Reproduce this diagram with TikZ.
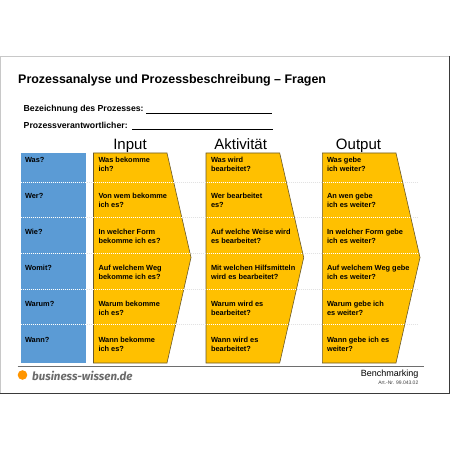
\documentclass[tikz,border=0pt]{standalone}
\usepackage{fontspec}
\setmainfont{Liberation Sans}
\newfontfamily\logofont{Fira Sans}
\definecolor{gold}{HTML}{FFC000}
\definecolor{edgegold}{HTML}{6B5A2A}
\definecolor{bluecol}{HTML}{5B9BD5}
\definecolor{framelight}{HTML}{C8C8C8}
\definecolor{framedark}{HTML}{3A3A3A}
\definecolor{rulegray}{HTML}{6E6E6E}
\definecolor{logogray}{HTML}{6A6A6A}
\definecolor{logoorange}{HTML}{FF9500}
\definecolor{dotgray}{HTML}{E2E2E2}
\tikzset{
  x=1bp,y=-1bp,
  txt/.style={anchor=west,inner sep=0pt,outer sep=0pt,font=\fontsize{7.4bp}{9bp}\selectfont\bfseries,align=left,text=black},
  head/.style={anchor=base,inner sep=0pt,font=\fontsize{15bp}{15bp}\selectfont},
  form/.style={anchor=west,inner sep=0pt,font=\fontsize{8.7bp}{9bp}\selectfont\bfseries},
  arrowbox/.style={fill=gold,draw=edgegold,line width=0.6bp,line join=miter},
  dotline/.style={line width=0.7bp,dash pattern=on 1bp off 1bp},
}
\begin{document}
\begin{tikzpicture}
\useasboundingbox (0,0) rectangle (450,450);
\fill[white] (0,0) rectangle (450,450);
% page frame
\draw[framelight,line width=1bp] (0.5,393) -- (0.5,56.5) -- (449,56.5);
\draw[framedark,line width=1bp] (449.5,56) -- (449.5,393) -- (0,393);
% title
\node[anchor=west,inner sep=0pt,font=\fontsize{12.45bp}{13bp}\selectfont\bfseries] (title) at (18,80.5) {Prozessanalyse und Prozessbeschreibung – Fragen};
\node[form] (bez) at (23.5,109) {Bezeichnung des Prozesses:};
\node[form] (ver) at (23.5,125) {Prozessverantwortlicher:};
\draw[black,line width=0.7bp] (146,113.5) -- (272,113.5);
\draw[black,line width=0.7bp] (132,129) -- (273,129);
% headers
\node[head] (hi) at (130,149.5) {Input};
\node[head] (ha) at (240.7,149.5) {Aktivität};
\node[head] (ho) at (358.5,149.5) {Output};
% columns
\fill[bluecol] (20.5,153) rectangle (86,363);
\draw[arrowbox] (93.5,153) -- (167,153) -- (191,257.5) -- (167,363) -- (93.5,363) -- cycle;
\draw[arrowbox] (206,153) -- (279.7,153) -- (303.7,257.5) -- (279.7,363) -- (206,363) -- cycle;
\draw[arrowbox] (322.3,153) -- (396,153) -- (420,257.5) -- (396,363) -- (322.3,363) -- cycle;
% row separators
\foreach \yy in {182.3,217.7,253.3,289,324.3}{
  \draw[dotgray,dotline] (20.5,\yy) -- (418,\yy);
}
\begin{scope}
\clip (20.5,153) rectangle (86,363)
      (93.5,153) -- (167,153) -- (191,257.5) -- (167,363) -- (93.5,363) -- cycle
      (206,153) -- (279.7,153) -- (303.7,257.5) -- (279.7,363) -- (206,363) -- cycle
      (322.3,153) -- (396,153) -- (420,257.5) -- (396,363) -- (322.3,363) -- cycle;
\foreach \yy in {182.3,217.7,253.3,289,324.3}{
  \draw[white,dotline] (20.5,\yy) -- (418,\yy);
}
\end{scope}
% blue labels
\node[txt] (q1) at (25,160) {Was?};
\node[txt] (q2) at (25,196) {Wer?};
\node[txt] (q3) at (25,232) {Wie?};
\node[txt] (q4) at (25,268) {Womit?};
\node[txt] (q5) at (25,304) {Warum?};
\node[txt] (q6) at (25,340) {Wann?};
% input
\node[txt] (i1) at (98.5,164.2) {Was bekomme\\ich?};
\node[txt] (i2) at (98.5,200.2) {Von wem bekomme\\ich es?};
\node[txt] (i3) at (98.5,236.2) {In welcher Form\\bekomme ich es?};
\node[txt] (i4) at (98.5,272.2) {Auf welchem Weg\\bekomme ich es?};
\node[txt] (i5) at (98.5,308.2) {Warum bekomme\\ich es?};
\node[txt] (i6) at (98.5,344.2) {Wann bekomme\\ich es?};
% activity
\node[txt] (a1) at (211,164.2) {Was wird\\bearbeitet?};
\node[txt] (a2) at (211,200.2) {Wer bearbeitet\\es?};
\node[txt] (a3) at (211,236.2) {Auf welche Weise wird\\es bearbeitet?};
\node[txt] (a4) at (211,272.2) {Mit welchen Hilfsmitteln\\wird es bearbeitet?};
\node[txt] (a5) at (211,308.2) {Warum wird es\\bearbeitet?};
\node[txt] (a6) at (211,344.2) {Wann wird es\\bearbeitet?};
% output
\node[txt] (o1) at (327,164.2) {Was gebe\\ich weiter?};
\node[txt] (o2) at (327,200.2) {An wen gebe\\ich es weiter?};
\node[txt] (o3) at (327,236.2) {In welcher Form gebe\\ich es weiter?};
\node[txt] (o4) at (327,272.2) {Auf welchem Weg gebe\\ich es weiter?};
\node[txt] (o5) at (327,308.2) {Warum gebe ich\\es weiter?};
\node[txt] (o6) at (327,344.2) {Wann gebe ich es\\weiter?};
% footer
\draw[rulegray,line width=0.8bp] (17.5,366) -- (423.5,366);
\fill[logoorange] (22.5,375) circle (4.8);
\node[anchor=west,inner sep=0pt,text=logogray,font=\logofont\fontsize{11.5bp}{12bp}\selectfont\bfseries\itshape] (logo) at (32,375.5) {business-wissen.de};
\node[anchor=east,inner sep=0pt,font=\fontsize{9bp}{10bp}\selectfont] (bm) at (418.5,374) {Benchmarking};
\node[anchor=east,inner sep=0pt,text=black!75,font=\fontsize{5bp}{5bp}\selectfont] (art) at (418.5,382.3) {Art.-Nr. 99.043.02};
\end{tikzpicture}
\end{document}
